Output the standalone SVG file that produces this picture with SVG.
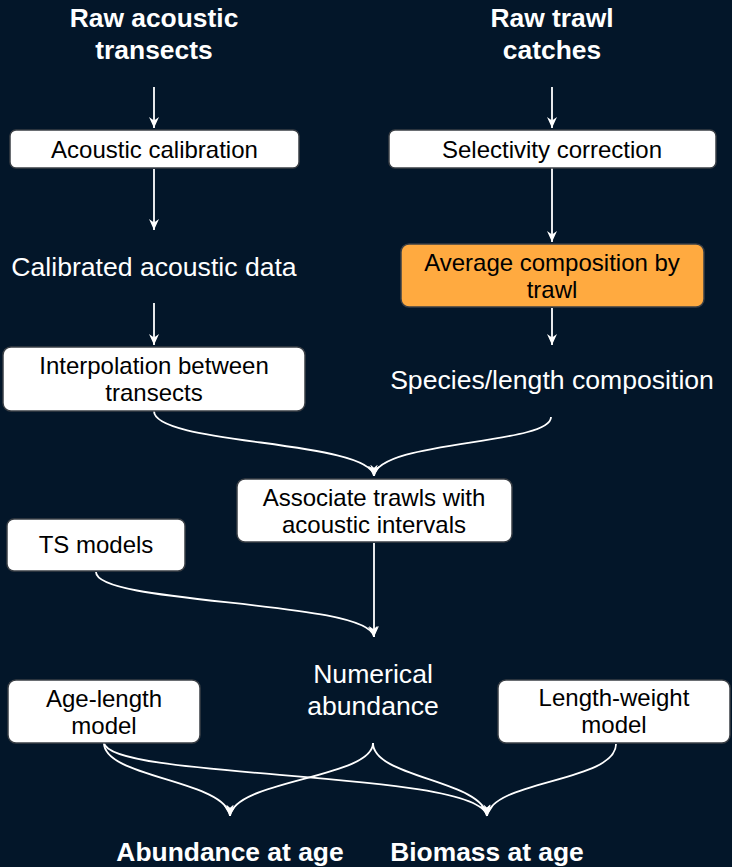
<svg xmlns="http://www.w3.org/2000/svg" width="732" height="867" viewBox="0 0 732 867">
<defs>
<marker id="vee" markerUnits="userSpaceOnUse" markerWidth="12" markerHeight="12" refX="11" refY="5" orient="auto" viewBox="0 0 12 10">
<path d="M0,0 L11,5 L0,10 L3.5,5 Z" fill="#ffffff"/>
</marker>
<style>
.bg{fill:#031629}
.box{fill:#ffffff;stroke:#3a3f45;stroke-width:1.5}
.orange{fill:#FFAA40;stroke:#3a3f45;stroke-width:1.5}
.bt{font-family:"Liberation Sans",Arial,sans-serif;font-size:24px;fill:#000000;text-anchor:middle}
.ft{font-family:"Liberation Sans",Arial,sans-serif;font-size:26.6px;fill:#ffffff;text-anchor:middle}
.tt{font-family:"Liberation Sans",Arial,sans-serif;font-size:26.4px;font-weight:bold;fill:#ffffff;text-anchor:middle}
.edge{fill:none;stroke:#ffffff;stroke-width:1.8;marker-end:url(#vee)}
</style>
</defs>
<rect class="bg" x="0" y="0" width="732" height="867"/>

<g id="connectors">
<path class="edge" d="M154,87 L154,128"/>
<path class="edge" d="M552,87 L552,128"/>
<path class="edge" d="M154,169 L154,230"/>
<path class="edge" d="M552,168 L552,242"/>
<path class="edge" d="M154,303 L154,345"/>
<path class="edge" d="M552,308 L552,345"/>
<path class="edge" d="M154,411 C154,445 370,440 374,476"/>
<path class="edge" d="M551,417 C551,445 378,440 374,476"/>
<path class="edge" d="M374,543 L374,637"/>
<path class="edge" d="M96,572 C96,605 370,600 374,637"/>
<path class="edge" d="M104,743 C104,778 226,780 230,816"/>
<path class="edge" d="M104,743 C110,780 480,770 487,816"/>
<path class="edge" d="M373,743 C373,778 234,780 230,816"/>
<path class="edge" d="M373,743 C373,778 483,780 487,816"/>
<path class="edge" d="M616,744 C616,782 492,780 487,816"/>
</g>

<g id="raw_acoustic">
<text class="tt" x="154" y="27">Raw acoustic</text>
<text class="tt" x="154" y="59">transects</text>
</g>
<g id="raw_trawl">
<text class="tt" x="552" y="27">Raw trawl</text>
<text class="tt" x="552" y="59">catches</text>
</g>
<g id="acoustic_calibration">
<rect class="box" x="10" y="130" width="289" height="38" rx="6"/>
<text class="bt" x="154.5" y="158">Acoustic calibration</text>
</g>
<g id="selectivity_correction">
<rect class="box" x="389" y="130" width="327" height="38" rx="6"/>
<text class="bt" x="552" y="158">Selectivity correction</text>
</g>
<g id="calibrated_data">
<text class="ft" x="154" y="276">Calibrated acoustic data</text>
</g>
<g id="average_composition">
<rect class="orange" x="401" y="244" width="303" height="63" rx="8"/>
<text class="bt" x="552" y="271">Average composition by</text>
<text class="bt" x="552" y="298">trawl</text>
</g>
<g id="species_length">
<text class="ft" x="552" y="389">Species/length composition</text>
</g>
<g id="interpolation">
<rect class="box" x="3" y="347" width="302" height="64" rx="8"/>
<text class="bt" x="154" y="374">Interpolation between</text>
<text class="bt" x="154" y="401">transects</text>
</g>
<g id="associate">
<rect class="box" x="237" y="479" width="275" height="63" rx="8"/>
<text class="bt" x="374" y="506">Associate trawls with</text>
<text class="bt" x="374" y="533">acoustic intervals</text>
</g>
<g id="ts_models">
<rect class="box" x="7" y="519" width="178" height="52" rx="7"/>
<text class="bt" x="96" y="553">TS models</text>
</g>
<g id="numerical_abundance">
<text class="ft" x="373" y="683">Numerical</text>
<text class="ft" x="373" y="715">abundance</text>
</g>
<g id="age_length">
<rect class="box" x="8" y="680" width="192" height="63" rx="8"/>
<text class="bt" x="104" y="707">Age-length</text>
<text class="bt" x="104" y="734">model</text>
</g>
<g id="length_weight">
<rect class="box" x="498" y="680" width="232" height="63" rx="8"/>
<text class="bt" x="614" y="706">Length-weight</text>
<text class="bt" x="614" y="733">model</text>
</g>
<g id="abundance_at_age">
<text class="tt" x="230" y="861">Abundance at age</text>
</g>
<g id="biomass_at_age">
<text class="tt" x="487" y="861">Biomass at age</text>
</g>
</svg>
